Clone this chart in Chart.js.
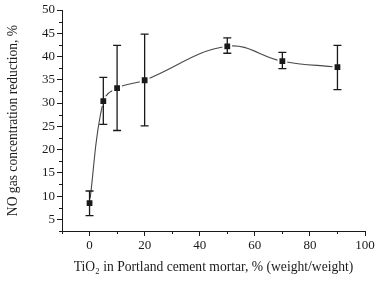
<!DOCTYPE html>
<html>
<head>
<meta charset="utf-8">
<script src="https://cdn.jsdelivr.net/npm/chart.js@4.4.1/dist/chart.umd.min.js"></script>
<style>
  html, body { margin: 0; padding: 0; background: #fff; }
  #wrap { width: 380px; height: 284px; }
</style>
</head>
<body>
<div id="wrap"><canvas id="chart"></canvas></div>
<script>
// TiO2 content (% w/w) and NO reduction
const tio2 = [0, 5, 10, 20, 50, 70, 90];
const reduction = [8.5, 30.4, 33.2, 34.9, 42.2, 39.0, 37.7];
const errLow = [5.8, 25.4, 24.1, 25.1, 40.7, 37.4, 32.9];
const errHigh = [11.1, 35.5, 42.4, 44.8, 44.0, 40.9, 42.4];

const xMajor = 20;
const yMajor = 5;
const ink = '#1a1a1a';
const family = '"Liberation Serif", "Times New Roman", serif';
const tickFont = { family: family, size: 13 };
const titleFont = { family: family, size: 13.6 };

// error bars with caps, drawn on top of the markers
const errorBars = {
    id: 'errorBars',
    afterDatasetsDraw(chart) {
        const { ctx, scales: { x, y } } = chart;
        ctx.save();
        ctx.strokeStyle = ink;
        ctx.lineWidth = 1.3;
        tio2.forEach((v, i) => {
            const px = x.getPixelForValue(v);
            const top = y.getPixelForValue(errHigh[i]);
            const bot = y.getPixelForValue(errLow[i]);
            ctx.beginPath();
            ctx.moveTo(px, top); ctx.lineTo(px, bot);
            ctx.moveTo(px - 4, top); ctx.lineTo(px + 4, top);
            ctx.moveTo(px - 4, bot); ctx.lineTo(px + 4, bot);
            ctx.stroke();
        });
        ctx.restore();
    }
};

// shorter minor ticks outside the axes
const minorTicks = {
    id: 'minorTicks',
    afterDraw(chart) {
        const { ctx, scales: { x, y } } = chart;
        ctx.save();
        ctx.strokeStyle = ink;
        ctx.lineWidth = 1;
        ctx.beginPath();
        x.ticks.forEach(t => {
            if (t.value % xMajor === 0) return;
            const px = Math.round(x.getPixelForValue(t.value)) + 0.5;
            ctx.moveTo(px, x.top); ctx.lineTo(px, x.top + 3);
        });
        y.ticks.forEach(t => {
            if (t.value % yMajor === 0) return;
            const py = Math.round(y.getPixelForValue(t.value)) + 0.5;
            ctx.moveTo(y.right, py); ctx.lineTo(y.right - 3, py);
        });
        ctx.stroke();
        ctx.restore();
    }
};

new Chart(document.getElementById('chart'), {
    type: 'scatter',
    data: {
        datasets: [{
            data: tio2.map((v, i) => ({ x: v, y: reduction[i] })),
            showLine: true,
            tension: 0.4,
            borderColor: '#484848',
            borderWidth: 1.1,
            pointStyle: 'rect',
            pointRadius: 5.5,
            pointBackgroundColor: ink,
            pointBorderColor: '#fff',
            pointBorderWidth: 2
        }]
    },
    options: {
        responsive: true,
        maintainAspectRatio: false,
        animation: false,
        layout: { padding: { top: 10, right: 15, left: 0, bottom: 0 } },
        plugins: { legend: { display: false }, tooltip: { enabled: false } },
        scales: {
            x: {
                type: 'linear',
                min: -10,
                max: 100,
                afterFit: s => { s.height = 53; },
                grid: {
                    drawOnChartArea: false,
                    tickLength: 5,
                    tickColor: c => (c.tick && c.tick.value % xMajor === 0) ? ink : 'rgba(0,0,0,0)'
                },
                border: { color: ink, width: 1 },
                ticks: {
                    stepSize: 10,
                    autoSkip: false,
                    maxRotation: 0,
                    padding: 2,
                    color: ink,
                    font: tickFont,
                    callback: v => v % xMajor === 0 ? v : ''
                },
                title: {
                    display: true,
                    text: 'TiO₂ in Portland cement mortar, % (weight/weight)',
                    color: ink,
                    font: titleFont,
                    padding: { top: 0, bottom: 8 }
                }
            },
            y: {
                min: 2.5,
                max: 50,
                afterFit: s => { s.width = 62; },
                grid: {
                    drawOnChartArea: false,
                    tickLength: 5,
                    tickColor: c => (c.tick && c.tick.value % yMajor === 0) ? ink : 'rgba(0,0,0,0)'
                },
                border: { color: ink, width: 1 },
                ticks: {
                    stepSize: 2.5,
                    autoSkip: false,
                    padding: 2,
                    color: ink,
                    font: tickFont,
                    callback: v => v % yMajor === 0 ? v : ''
                },
                title: {
                    display: true,
                    text: 'NO gas concentration reduction, %',
                    color: ink,
                    font: titleFont,
                    padding: { top: 5, bottom: 0 }
                }
            }
        }
    },
    plugins: [errorBars, minorTicks]
});
</script>
</body>
</html>
